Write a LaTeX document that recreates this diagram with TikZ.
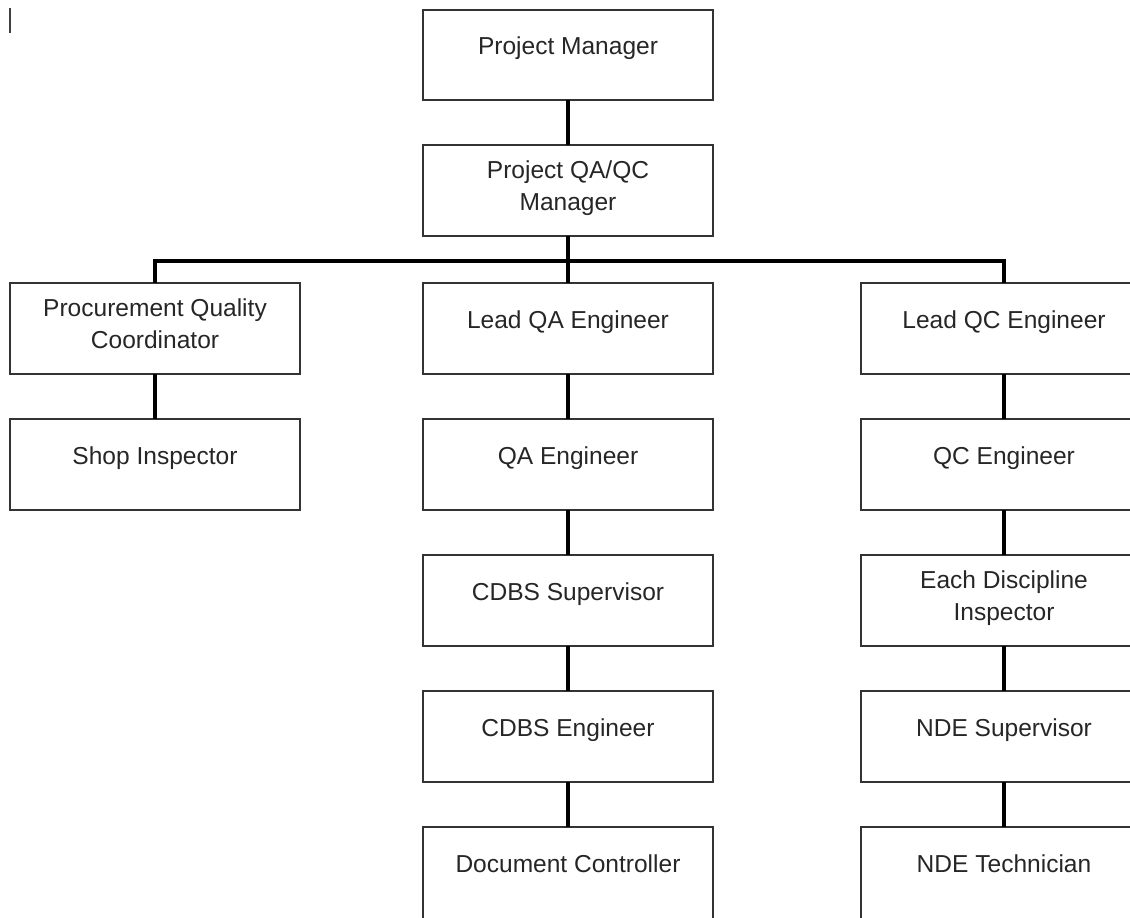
\documentclass[tikz,border=0pt]{standalone}
\usepackage{fontspec}
\setmainfont{Liberation Sans}
\begin{document}
\begin{tikzpicture}[x=0.75pt,y=-0.75pt,
  box/.style={draw=black!80, line width=1pt, rectangle, inner sep=0pt, outer sep=0pt,
    minimum width=217.5pt, minimum height=68.25pt},
  rbox/.style={box, minimum width=214.5pt},
  lbl/.style={font=\fontsize{18.4pt}{24pt}\selectfont, text=black!85, align=center, inner sep=0pt},
  one/.style={lbl, anchor=base},
  two/.style={lbl, anchor=north},
  conn/.style={line width=2.5pt, black}]
\useasboundingbox (0,0) rectangle (1130,917);
\clip (0,0) rectangle (1130,917);
% cursor mark
\draw[line width=1pt, black!75] (10,8) -- (10,33);
% boxes
\node[box, minimum height=67.5pt] (pm) at (568,55) {};
\node[box] (qaqc) at (568,190.5) {};
\node[box] (pqc) at (155,328.5) {};
\node[box] (shop) at (155,464.5) {};
\node[box] (lqa) at (568,328.5) {};
\node[box] (qae) at (568,464.5) {};
\node[box] (cdbss) at (568,600.5) {};
\node[box] (cdbse) at (568,736.5) {};
\node[box, minimum height=75pt] (doc) at (568,877) {};
\node[rbox] (lqc) at (1004,328.5) {};
\node[rbox] (qce) at (1004,464.5) {};
\node[rbox] (edi) at (1004,600.5) {};
\node[rbox] (ndes) at (1004,736.5) {};
\node[rbox, minimum height=75pt] (ndet) at (1004,877) {};
% labels
\node[one] (tpm) at (568,55) {Project Manager};
\node[two] (tqaqc) at (568,160) {Project QA/QC\\Manager};
\node[two] (tpqc) at (155,298) {Procurement Quality\\Coordinator};
\node[one] (tshop) at (155,464) {Shop Inspector};
\node[one] (tlqa) at (568,328) {Lead QA Engineer};
\node[one] (tqae) at (568,464) {QA Engineer};
\node[one] (tcdbss) at (568,600) {CDBS Supervisor};
\node[one] (tcdbse) at (568,736) {CDBS Engineer};
\node[one] (tdoc) at (568,872) {Document Controller};
\node[one] (tlqc) at (1004,328) {Lead QC Engineer};
\node[one] (tqce) at (1004,464) {QC Engineer};
\node[two] (tedi) at (1004,570) {Each Discipline\\Inspector};
\node[one] (tndes) at (1004,736) {NDE Supervisor};
\node[one] (tndet) at (1004,872) {NDE Technician};
% connectors
\coordinate (bus) at (568,261);
\draw[conn] (pm.south) -- (qaqc.north);
\draw[conn] (qaqc.south) -- (lqa.north);
\draw[conn] (pqc.north) |- (bus) -| (lqc.north);
\draw[conn] (pqc.south) -- (shop.north);
\draw[conn] (lqa.south) -- (qae.north);
\draw[conn] (qae.south) -- (cdbss.north);
\draw[conn] (cdbss.south) -- (cdbse.north);
\draw[conn] (cdbse.south) -- (doc.north);
\draw[conn] (lqc.south) -- (qce.north);
\draw[conn] (qce.south) -- (edi.north);
\draw[conn] (edi.south) -- (ndes.north);
\draw[conn] (ndes.south) -- (ndet.north);
\end{tikzpicture}
\end{document}
